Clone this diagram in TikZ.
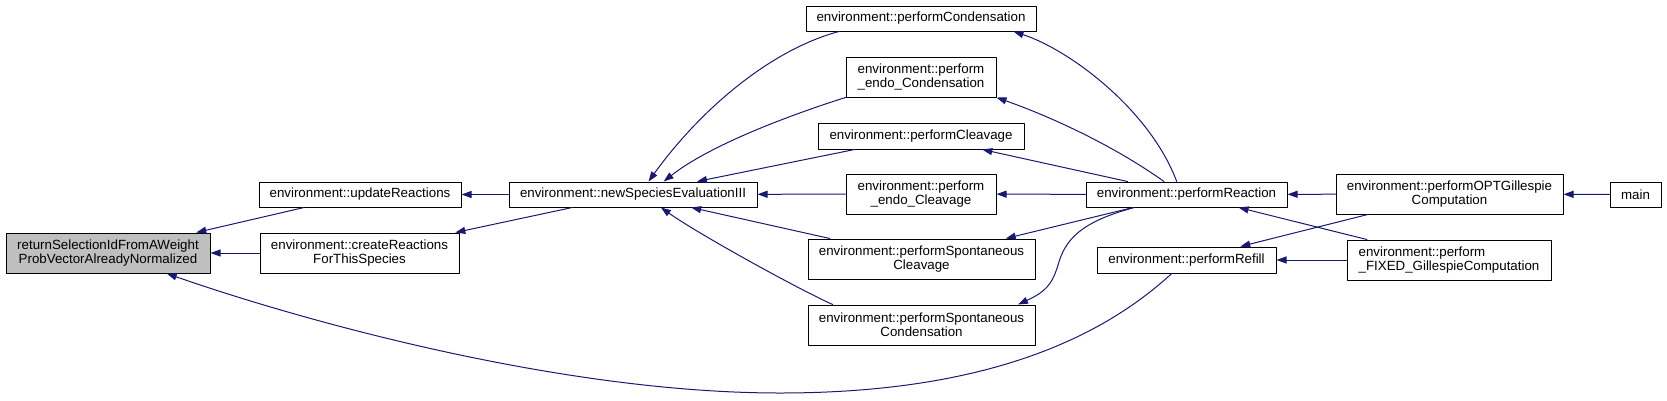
\documentclass[tikz,border=0pt]{standalone}
\usepackage{fontspec}
\setmainfont{Liberation Sans}
\usetikzlibrary{arrows.meta}
\definecolor{edgeblue}{RGB}{25,25,112}
\definecolor{rootgray}{RGB}{191,191,191}

\begin{document}
\begin{tikzpicture}[x=1pt,y=-1pt,line cap=round,line join=round,
        fn/.style={draw=black,line width=1pt,inner sep=0pt,align=center,
            font=\fontsize{13.33}{14}\selectfont},
        sz/.style 2 args={minimum width=#1pt,minimum height=#2pt},
        call/.style={edgeblue,line width=1pt,-{Triangle[length=10pt,width=7pt]}}]
        \path[fill=white] (0,0) rectangle (1667,400);
        \useasboundingbox (0,0) rectangle (1667,400);

        % Funciones
        \node[fn,sz={204}{40},fill=rootgray] (root) at (108,253)
            {returnSelectionIdFromAWeight\\ProbVectorAlreadyNormalized};
        \node[fn,sz={202}{25}] (upd) at (360,194.5) {environment::updateReactions};
        \node[fn,sz={199}{40}] (cre) at (359.5,253)
            {environment::createReactions\\ForThisSpecies};
        \node[fn,sz={248}{25}] (nse) at (633,194.5) {environment::newSpeciesEvaluationIII};
        \node[fn,sz={230}{25}] (pcond) at (921,18.5) {environment::performCondensation};
        \node[fn,sz={150}{40}] (pecond) at (921,77)
            {environment::perform\\\_endo\_Condensation};
        \node[fn,sz={206}{26}] (pcleav) at (921,136) {environment::performCleavage};
        \node[fn,sz={150}{40}] (pecleav) at (921,194)
            {environment::perform\\\_endo\_Cleavage};
        \node[fn,sz={227}{40}] (pspcl) at (921.5,259)
            {environment::performSpontaneous\\Cleavage};
        \node[fn,sz={227}{40}] (pspco) at (921.5,325)
            {environment::performSpontaneous\\Condensation};
        \node[fn,sz={201}{25}] (preact) at (1186.5,194.5) {environment::performReaction};
        \node[fn,sz={179}{26}] (prefill) at (1186.5,260) {environment::performRefill};
        \node[fn,sz={227}{40}] (popt) at (1449.5,194)
            {environment::performOPTGillespie\\Computation};
        \node[fn,sz={204}{40},align=left] (pfixed) at (1449,260)
            {environment::perform\\\_FIXED\_GillespieComputation};
        \node[fn,sz={51}{25}] (main) at (1635.5,194.5) {main};

        % Llamadas
        \draw[call] (upd) -- (root);
        \draw[call] (cre) -- (root);
        \draw[call] (prefill) .. controls (1110,330) and (1000,393) .. (780,393)
            .. controls (560,393) and (300,320) .. (root);
        \draw[call] (nse) -- (upd);
        \draw[call] (nse) -- (cre);
        \draw[call] (pcond.189) .. controls (770,50) and (700,110) .. (nse.40);
        \draw[call] (pecond.south west) .. controls (790,115) and (710,145) .. (nse.23);
        \draw[call] (pcleav) -- (nse);
        \draw[call] (pecleav) -- (nse);
        \draw[call] (pspcl) -- (nse);
        \draw[call] (pspco.167) .. controls (800,290) and (700,235) .. (nse.-25);
        \draw[call] (preact.127) .. controls (1150,110) and (1070,50) .. (pcond.-8);
        \draw[call] (preact.150) .. controls (1120,150) and (1060,120) .. (pecond.south east);
        \draw[call] (preact) -- (pcleav);
        \draw[call] (preact) -- (pecleav);
        \draw[call] (preact) -- (pspcl);
        \draw[call] (preact.194) .. controls (1080,222) and (1065,240) .. (1058,265)
            .. controls (1052,285) and (1045,292) .. (pspco.12);
        \draw[call] (popt) -- (preact);
        \draw[call] (popt) -- (prefill);
        \draw[call] (pfixed) -- (preact);
        \draw[call] (pfixed) -- (prefill);
        \draw[call] (main) -- (popt);
    \end{tikzpicture}
\end{document}
